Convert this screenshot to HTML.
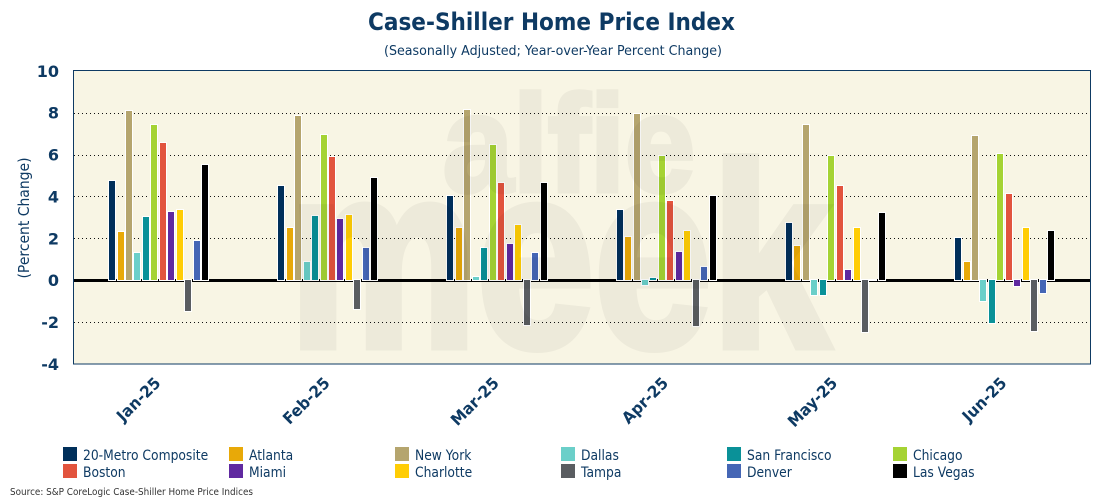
<!DOCTYPE html>
<html lang="en">
<head>
<meta charset="utf-8">
<title>Case-Shiller Home Price Index</title>
<style>
html,body{margin:0;padding:0;background:#fff;}
body{width:1100px;height:500px;overflow:hidden;}
svg{display:block;font-family:"DejaVu Sans","Liberation Sans",sans-serif;}
</style>
</head>
<body>
<svg id="chart" width="1100" height="500" viewBox="0 0 1100 500" xmlns="http://www.w3.org/2000/svg">
  <text x="551.5" y="30" text-anchor="middle" font-size="24" font-weight="bold" fill="#0e3a63" textLength="367" lengthAdjust="spacingAndGlyphs">Case-Shiller Home Price Index</text>
  <text x="553" y="55" text-anchor="middle" font-size="13.5" fill="#0e3a63" textLength="338" lengthAdjust="spacingAndGlyphs">(Seasonally Adjusted; Year-over-Year Percent Change)</text>
  <rect x="73.5" y="70.5" width="1017" height="293.5" fill="#f8f5e4"/>
  <g id="grid"></g>
  <g id="bars"></g>
  <g font-family="'Liberation Sans',sans-serif" font-weight="bold" fill="#000" stroke="#000" opacity="0.04">
    <text x="443" y="191" font-size="137" stroke-width="5" textLength="252" lengthAdjust="spacingAndGlyphs">alfie</text>
    <text x="289" y="346" font-size="260" stroke-width="9" textLength="540" lengthAdjust="spacingAndGlyphs">meek</text>
  </g>
  <rect x="73.5" y="70.5" width="1017" height="293.5" fill="none" stroke="#0e3a63" stroke-width="1"/>
  <g id="yticks"></g>
  <g id="xticks"></g>
  <text transform="translate(29,218) rotate(-90)" text-anchor="middle" font-size="15" fill="#0e3a63" textLength="121" lengthAdjust="spacingAndGlyphs">(Percent Change)</text>
  <g id="legend"></g>
  <text x="10" y="495" font-size="10" fill="#333" textLength="243" lengthAdjust="spacingAndGlyphs">Source: S&amp;P CoreLogic Case-Shiller Home Price Indices</text>
</svg>
<script>
const categories = ['Jan-25', 'Feb-25', 'Mar-25', 'Apr-25', 'May-25', 'Jun-25'];
const seriesNames = ['20-Metro Composite', 'Atlanta', 'New York', 'Dallas', 'San Francisco', 'Chicago', 'Boston', 'Miami', 'Charlotte', 'Tampa', 'Denver', 'Las Vegas'];
const seriesColors = ['#002f5a', '#e8a908', '#b5a56e', '#6bcfc9', '#0a9198', '#a5d334', '#e2543e', '#6029a0', '#ffcd05', '#5a5d61', '#4566b5', '#000000'];
const composite = [4.76, 4.52, 4.04, 3.37, 2.75, 2.04];
const atlanta = [2.32, 2.47, 2.47, 2.08, 1.65, 0.89];
const newYork = [8.10, 7.86, 8.15, 7.96, 7.43, 6.90];
const dallas = [1.32, 0.89, 0.17, -0.24, -0.72, -1.00];
const sanFrancisco = [3.04, 3.09, 1.56, 0.13, -0.72, -2.05];
const chicago = [7.43, 6.95, 6.48, 5.95, 5.95, 6.05];
const boston = [6.57, 5.89, 4.66, 3.80, 4.52, 4.14];
const miami = [3.28, 2.90, 1.75, 1.37, 0.51, -0.29];
const charlotte = [3.33, 3.13, 2.66, 2.37, 2.47, 2.51];
const tampa = [-1.46, -1.37, -2.15, -2.20, -2.48, -2.43];
const denver = [1.88, 1.56, 1.32, 0.65, 0, -0.62];
const lasVegas = [5.50, 4.90, 4.66, 4.04, 3.23, 2.37];
const seriesValues = [composite, atlanta, newYork, dallas, sanFrancisco, chicago, boston, miami, charlotte, tampa, denver, lasVegas];
const yTickValues = [10, 8, 6, 4, 2, 0, -2, -4];

const NS = 'http://www.w3.org/2000/svg';
const Y_MIN = -4, Y_MAX = 10, PLOT_TOP = 70.8, PLOT_BOTTOM = 364;
const BAND_START = 74, BAND = 169.2, BAR_PITCH = BAND / 20, BAR_W = 6;
function yScale(v) { return PLOT_BOTTOM - (v - Y_MIN) / (Y_MAX - Y_MIN) * (PLOT_BOTTOM - PLOT_TOP); }
function barX(g, s) { return Math.round(BAND_START + g * BAND + (4 + s) * BAR_PITCH + 1.2); }
function bandCenter(g) { return BAND_START + g * BAND + BAND / 2; }
function make(tag, parent, attrs) {
  const el = document.createElementNS(NS, tag);
  for (const k in attrs) el.setAttribute(k, attrs[k]);
  parent.appendChild(el);
  return el;
}
function squeeze(el, factor) {
  const len = el.getComputedTextLength();
  el.setAttribute('textLength', (len * factor).toFixed(1));
  el.setAttribute('lengthAdjust', 'spacingAndGlyphs');
}
const gridG = document.getElementById('grid');
const barsG = document.getElementById('bars');
const yG = document.getElementById('yticks');
const xG = document.getElementById('xticks');
const legendG = document.getElementById('legend');
const zeroY = Math.round(yScale(0));

yTickValues.forEach(function (v) {
  const py = Math.round(yScale(v));
  if (v !== 0 && v !== Y_MIN && v !== Y_MAX) {
    const line = make('line', gridG, { x1: 74, x2: 1090, y1: py + 0.5, y2: py + 0.5, stroke: '#111', 'stroke-width': 1, 'stroke-dasharray': '1 3' });
    
    
  }
  const label = make('text', yG, { x: 59, y: yScale(v) + 6, 'text-anchor': 'end', 'font-size': 16, 'font-weight': 'bold', fill: '#0e3a63' });
  label.textContent = String(v);
  
  
});

const zeroLine = make('rect', gridG, { x: 74, y: zeroY - 1, width: 1016, height: 3, fill: '#000' });



categories.forEach(function (cat, g) {
  seriesValues.forEach(function (vals, s) {
    const v = vals[g];
    const top = Math.round(yScale(Math.max(v, 0)));
    const bottom = Math.round(yScale(Math.min(v, 0)));
    const bar = make('rect', barsG, { x: barX(g, s) - 0.5, y: top - 0.5, width: BAR_W + 1, height: Math.max(bottom - top, 0) + 1, fill: seriesColors[s], stroke: '#fff', 'stroke-width': 1 });
    
    
  });
  const cx = bandCenter(g);
  const label = make('text', xG, { transform: 'translate(' + (cx + 3) + ',384) rotate(-45)', 'text-anchor': 'end', 'font-size': 16, 'font-weight': 'bold', fill: '#0e3a63' });
  label.textContent = cat;
  
  
  squeeze(label, 0.95);
});

seriesNames.forEach(function (name, i) {
  const col = i % 6, row = Math.floor(i / 6);
  const lx = 63 + col * 166;
  const ly = 447 + row * 17;
  const swatch = make('rect', legendG, { x: lx, y: ly, width: 14, height: 14, fill: seriesColors[i] });
  
  
  const label = make('text', legendG, { x: lx + 20, y: ly + 13, 'font-size': 14, fill: '#0e3a63' });
  label.textContent = name;
  
  
  squeeze(label, 0.88);
});
</script>
</body>
</html>
